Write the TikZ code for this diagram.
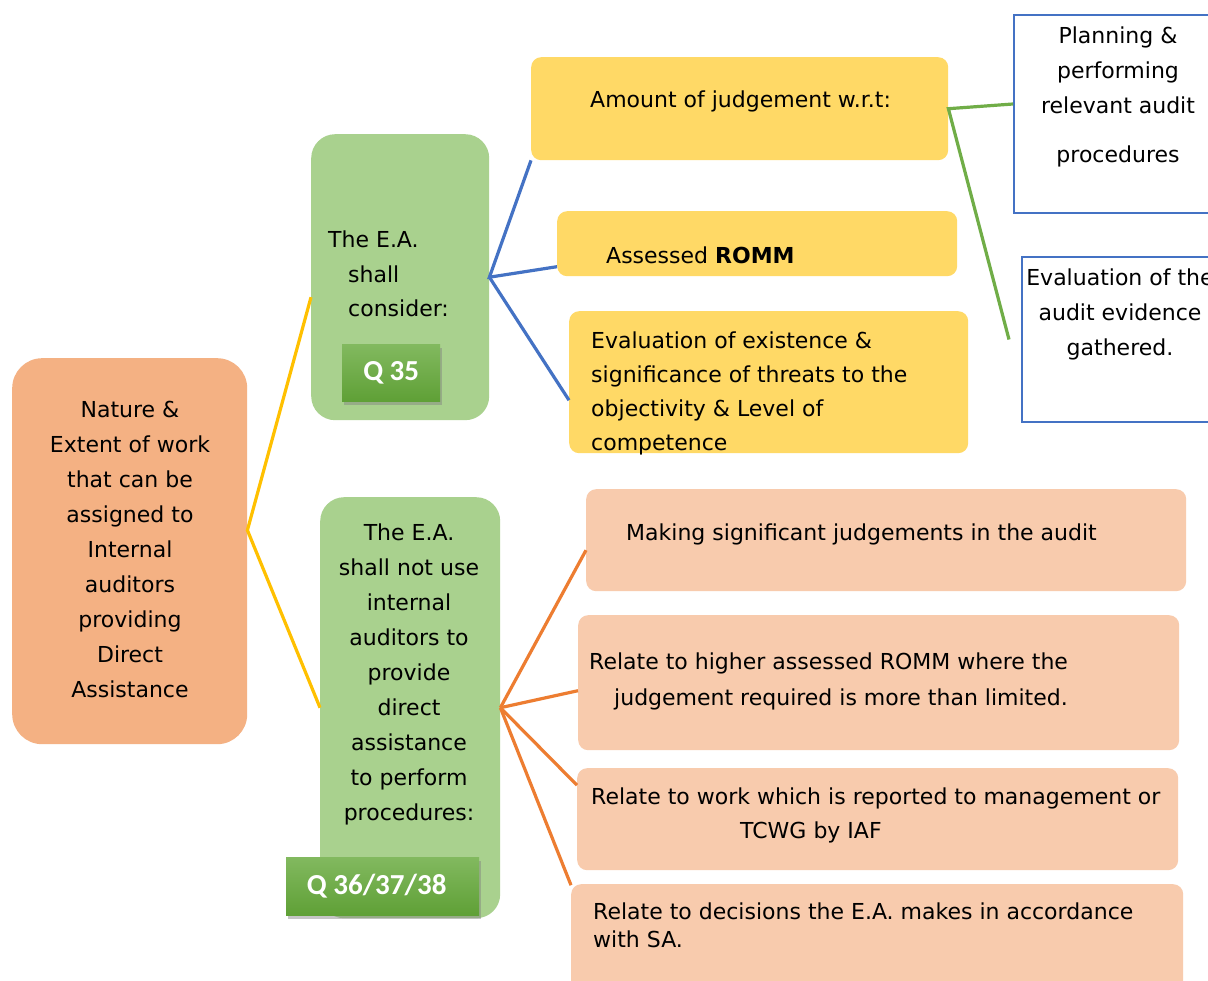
\documentclass[tikz,border=0pt]{standalone}
\usepackage{fontspec}
\setmainfont{DejaVu Sans}
\newfontfamily\btnfont{Carlito}
\usetikzlibrary{positioning, shadows, calc}
\definecolor{rootfill}{HTML}{F4B183}
\definecolor{greenfill}{HTML}{A9D18E}
\definecolor{yellowfill}{HTML}{FFD966}
\definecolor{peachfill}{HTML}{F8CBAD}
\definecolor{yellowline}{HTML}{FFC000}
\definecolor{blueline}{HTML}{4472C4}
\definecolor{greenline}{HTML}{70AD47}
\definecolor{orangeline}{HTML}{ED7D31}
\definecolor{btntop}{HTML}{82B95F}
\definecolor{btnbot}{HTML}{5FA036}
\tikzstyle{box} = [rectangle, rounded corners=10pt, inner sep=0pt, anchor=north west]
\tikzstyle{link} = [line width=3.2pt]
\tikzset{
  rootbox/.style   = {box, fill=rootfill, rounded corners=30pt},
  greenbox/.style  = {box, fill=greenfill, rounded corners=24pt},
  yellowbox/.style = {box, fill=yellowfill},
  peachbox/.style  = {box, fill=peachfill},
  outbox/.style    = {rectangle, inner sep=0pt, anchor=north west, draw=blueline, line width=2pt, fill=white},
  btn/.style       = {rectangle, inner sep=0pt, anchor=north west,
                      top color=btntop, bottom color=btnbot,
                      drop shadow={shadow xshift=2pt, shadow yshift=-4pt, opacity=0.45},
                      text=white, font=\btnfont\bfseries\fontsize{29}{30}\selectfont},
  txt/.style       = {inner sep=0pt, anchor=base, font=\fontsize{22}{35}\selectfont}
}

\begin{document}
\begin{tikzpicture}[x=1pt, y=-1pt]
  \clip (0,0) rectangle (1208,981);
  \fill[white] (0,0) rectangle (1208,981);

  % Main topic (texts are placed at the baseline of their last line)
  \node[rootbox, minimum width=235pt, minimum height=386pt] (root) at (12,358) {};
  \node[txt, align=center] (root-t) at (130,697)
    {Nature \&\\Extent of work\\that can be\\assigned to\\Internal\\auditors\\providing\\Direct\\Assistance};

  % Two branches
  \node[greenbox, minimum width=178pt, minimum height=286pt] (consider) at (311,134) {};
  \node[txt, anchor=base west, align=left, font=\fontsize{22}{34.5}\selectfont] (consider-t) at (328,317)
    {The E.A.\\\hspace*{20pt}shall\\\hspace*{20pt}consider:};
  \node[greenbox, minimum width=180pt, minimum height=421pt] (notuse) at (320,497) {};
  \node[txt, align=center] (notuse-t) at (409,820)
    {The E.A.\\shall not use\\internal\\auditors to\\provide\\direct\\assistance\\to perform\\procedures:};

  % Question tags
  \node[btn, minimum width=98pt, minimum height=57pt] (q35) at (342,344) {Q 35};
  \node[btn, minimum width=193pt, minimum height=58pt] (q36) at (286,857) {Q 36/37/38\hspace*{12pt}};

  % Things to consider
  \node[yellowbox, minimum width=417pt, minimum height=103pt] (amount) at (531,57) {};
  \node[txt, anchor=base west] (amount-t) at (590,108) {Amount of judgement w.r.t:};
  \node[yellowbox, minimum width=400pt, minimum height=65pt] (romm) at (557,211) {};
  \node[txt, anchor=base west] (romm-t) at (606,264) {Assessed \textbf{ROMM}};
  \node[yellowbox, minimum width=399pt, minimum height=142pt] (threats) at (569,311) {};
  \node[txt, anchor=base west, align=left, font=\fontsize{22}{33.7}\selectfont] (threats-t) at (591,450)
    {Evaluation of existence \&\\significance of threats to the\\objectivity \& Level of\\competence};

  % w.r.t.
  \node[outbox, minimum width=230pt, minimum height=198pt] (plan) at (1013,14) {};
  \node[txt, align=center] (plan-t) at (1118,163)
    {Planning \&\\performing\\relevant audit\\[14pt]procedures};
  \node[outbox, minimum width=230pt, minimum height=165pt] (evid) at (1021,256) {};
  \node[txt, align=center] (evid-t) at (1120,356)
    {Evaluation of the\\audit evidence\\gathered.};

  % Not to be used for
  \node[peachbox, minimum width=600pt, minimum height=102pt] (judge) at (586,489) {};
  \node[txt, anchor=base west] (judge-t) at (626,540) {Making significant judgements in the audit};
  \node[peachbox, minimum width=601pt, minimum height=135pt] (higher) at (578,615) {};
  \node[txt, anchor=base west, align=left, font=\fontsize{22}{36}\selectfont] (higher-t) at (589,705)
    {Relate to higher assessed ROMM where the\\\hspace*{25pt}judgement required is more than limited.};
  \node[peachbox, minimum width=601pt, minimum height=102pt] (report) at (577,768) {};
  \node[txt, anchor=base west, align=left, font=\fontsize{22}{34}\selectfont] (report-t) at (591,838)
    {Relate to work which is reported to management or\\\hspace*{149pt}TCWG by IAF};
  \node[peachbox, minimum width=612pt, minimum height=120pt] (decide) at (571,884) {};
  \node[txt, anchor=base west, align=left, font=\fontsize{22}{28}\selectfont] (decide-t) at (593,947)
    {Relate to decisions the E.A. makes in accordance\\with SA.};

  % Connectors
  \draw[link, yellowline] ([yshift=-20pt]consider.west) -- ([yshift=21pt]root.east) -- (notuse.west);
  \draw[link, blueline] (amount.south west) -- (consider.east) -- ([yshift=-23pt]romm.west);
  \draw[link, blueline] (consider.east) -- ([yshift=-18pt]threats.west);
  \draw[link, greenline] ([yshift=10pt]plan.west) -- (amount.east) -- ([xshift=-12pt]evid.west);
  \foreach \b/\s in {judge/-10, higher/-8, report/34, decide/59}
    \draw[link, orangeline] (notuse.east) -- ([yshift=\s pt]\b.west);
\end{tikzpicture}
\end{document}
